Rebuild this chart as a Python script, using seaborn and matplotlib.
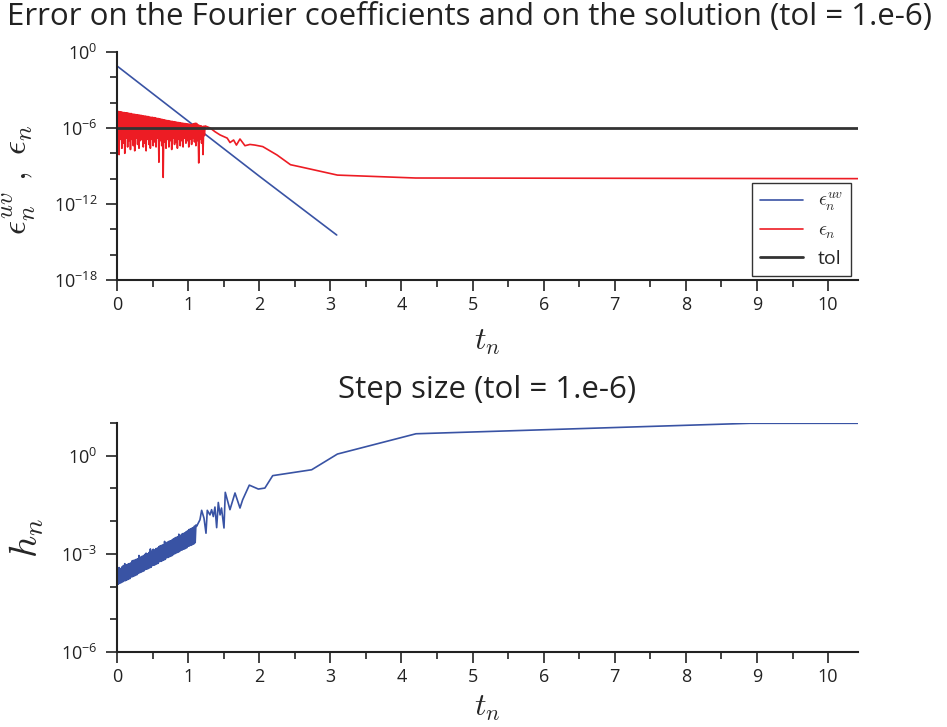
import numpy as np
import pandas as pd
import seaborn as sns
import matplotlib.pyplot as plt
from matplotlib.ticker import FixedLocator, NullFormatter, MultipleLocator, LogFormatterSciNotation

sns.set_style("ticks")
plt.rcParams["font.family"] = ["Open Sans", "DejaVu Sans"]
plt.rcParams["mathtext.fontset"] = "dejavusans"

# ---- data (y values given as log10) ----
tol = 1e-6

# error on the Fourier coefficients (straight line in log scale)
t_uv = [0.0, 1.0, 2.0, 3.09]
log_eps_uv = [-1.1, -5.45, -9.8, -14.45]

# error on the solution: noisy start, then smooth tail
t_eps = [0.00,
         0.00, 0.01, 0.02, 0.03, 0.04, 0.05, 0.06, 0.07, 0.08, 0.09,
         0.10, 0.11, 0.12, 0.13, 0.14, 0.15, 0.16, 0.17, 0.18, 0.19,
         0.20, 0.21, 0.22, 0.23, 0.24, 0.25, 0.26, 0.27, 0.28, 0.29,
         0.30, 0.31, 0.32, 0.33, 0.34, 0.35, 0.36, 0.37, 0.38, 0.39,
         0.40, 0.41, 0.42, 0.43, 0.44, 0.45, 0.46, 0.47, 0.48, 0.49,
         0.50, 0.51, 0.52, 0.53, 0.54, 0.55, 0.56, 0.57, 0.58, 0.59,
         0.60, 0.61, 0.62, 0.63, 0.64, 0.65, 0.66, 0.67, 0.68, 0.69,
         0.70, 0.71, 0.72, 0.73, 0.74, 0.75, 0.76, 0.77, 0.78, 0.79,
         0.80, 0.81, 0.82, 0.83, 0.84, 0.85, 0.86, 0.87, 0.88, 0.89,
         0.90, 0.91, 0.92, 0.93, 0.94, 0.95, 0.96, 0.97, 0.98, 0.99,
         1.00, 1.01, 1.02, 1.03, 1.04, 1.05, 1.06, 1.07, 1.08, 1.09,
         1.10, 1.11, 1.12, 1.13, 1.14, 1.15, 1.16, 1.17, 1.18, 1.19,
         1.20, 1.21, 1.22, 1.23, 1.24,
         1.31, 1.38, 1.45, 1.55, 1.59, 1.64, 1.68, 1.73, 1.80, 1.87, 1.94,
         2.05, 2.25, 2.44, 2.58, 3.10, 4.20, 10.42]
log_eps = [-12.7,
           -4.68, -7.4, -4.70, -8.1, -4.72, -6.9, -4.73, -7.6, -4.76, -7.2,
           -4.78, -8.0, -4.80, -6.8, -4.80, -7.5, -4.83, -7.0, -4.85, -7.7,
           -4.86, -6.9, -4.90, -7.4, -4.91, -7.8, -4.94, -6.8, -4.95, -7.3,
           -4.97, -7.6, -4.98, -7.0, -5.00, -6.9, -5.03, -7.5, -5.05, -7.2,
           -5.06, -7.8, -5.08, -6.9, -5.10, -7.3, -5.13, -7.6, -5.15, -6.9,
           -5.16, -7.4, -5.18, -7.1, -5.20, -7.5, -5.23, -6.8, -5.25, -8.7,
           -5.27, -7.0, -5.30, -7.4, -5.33, -9.9, -5.35, -7.1, -5.38, -7.6,
           -5.40, -6.9, -5.42, -7.5, -5.44, -7.0, -5.46, -7.7, -5.48, -6.8,
           -5.50, -7.3, -5.52, -7.1, -5.54, -7.6, -5.56, -6.9, -5.58, -7.4,
           -5.60, -7.0, -5.62, -7.5, -5.63, -6.8, -5.65, -7.2, -5.67, -7.0,
           -5.68, -7.5, -5.70, -6.9, -5.72, -7.3, -5.70, -6.8, -5.66, -7.1,
           -5.62, -7.4, -5.64, -7.0, -5.75, -8.76, -5.80, -6.9, -5.82, -7.2,
           -5.88, -8.1, -5.86, -6.6, -5.84,
           -6.0, -6.3, -6.55, -6.8, -7.15, -6.95, -7.35, -6.87, -7.4, -7.3, -7.35,
           -7.47, -8.13, -8.9, -9.07, -9.72, -9.95, -10.0]

# step size: noisy band, zigzag, then smooth growth
t_h = [0.00,
       0.00, 0.01, 0.02, 0.03, 0.04, 0.05, 0.06, 0.07, 0.08, 0.09,
       0.10, 0.11, 0.12, 0.13, 0.14, 0.15, 0.16, 0.17, 0.18, 0.19,
       0.20, 0.21, 0.22, 0.23, 0.24, 0.25, 0.26, 0.27, 0.28, 0.29,
       0.30, 0.31, 0.32, 0.33, 0.34, 0.35, 0.36, 0.37, 0.38, 0.39,
       0.40, 0.41, 0.42, 0.43, 0.44, 0.45, 0.46, 0.47, 0.48, 0.49,
       0.50, 0.51, 0.52, 0.53, 0.54, 0.55, 0.56, 0.57, 0.58, 0.59,
       0.60, 0.61, 0.62, 0.63, 0.64, 0.65, 0.66, 0.67, 0.68, 0.69,
       0.70, 0.71, 0.72, 0.73, 0.74, 0.75, 0.76, 0.77, 0.78, 0.79,
       0.80, 0.81, 0.82, 0.83, 0.84, 0.85, 0.86, 0.87, 0.88, 0.89,
       0.90, 0.91, 0.92, 0.93, 0.94, 0.95, 0.96, 0.97, 0.98, 0.99,
       1.00, 1.01, 1.02, 1.03, 1.04, 1.05, 1.06, 1.07, 1.08, 1.09,
       1.10, 1.11, 1.12,
       1.167, 1.191, 1.224, 1.252, 1.27, 1.308, 1.331, 1.355, 1.378, 1.402,
       1.425, 1.45, 1.47, 1.505, 1.523, 1.589, 1.66, 1.73, 1.767, 1.861,
       1.988, 2.08, 2.19, 2.738, 3.10, 4.205, 8.90, 10.42]
log_h = [-6.0,
         -3.95, -3.44, -3.93, -3.42, -3.90, -3.45, -3.88, -3.40, -3.86, -3.36,
         -3.83, -3.30, -3.82, -3.34, -3.80, -3.32, -3.78, -3.30, -3.76, -3.28,
         -3.71, -3.22, -3.70, -3.20, -3.68, -3.19, -3.66, -3.17, -3.64, -3.15,
         -3.60, -3.05, -3.58, -3.10, -3.56, -3.08, -3.54, -3.06, -3.52, -3.02,
         -3.48, -2.98, -3.47, -3.00, -3.45, -2.96, -3.43, -2.85, -3.41, -2.92,
         -3.36, -2.86, -3.35, -2.88, -3.33, -2.84, -3.31, -2.82, -3.29, -2.78,
         -3.24, -2.75, -3.23, -2.74, -3.21, -2.72, -3.19, -2.62, -3.17, -2.68,
         -3.12, -2.64, -3.11, -2.62, -3.09, -2.60, -3.07, -2.58, -3.05, -2.55,
         -3.01, -2.52, -2.99, -2.50, -2.97, -2.48, -2.95, -2.40, -2.93, -2.44,
         -2.89, -2.40, -2.88, -2.38, -2.86, -2.36, -2.84, -2.33, -2.82, -2.30,
         -2.77, -2.26, -2.76, -2.24, -2.74, -2.22, -2.72, -2.20, -2.70, -2.15,
         -2.66, -2.12, -2.16,
         -1.96, -1.67, -1.91, -2.37, -1.67, -1.81, -1.65, -1.86, -1.57, -2.20,
         -1.43, -1.81, -1.60, -2.21, -1.12, -1.65, -1.14, -1.60, -1.35, -0.90,
         -1.02, -0.99, -0.61, -0.43, 0.05, 0.67, 0.99, 0.99]

xticks = list(range(11))

uv_df = pd.DataFrame({"t": t_uv, "err": 10.0 ** np.array(log_eps_uv)})
eps_df = pd.DataFrame({"t": t_eps, "err": 10.0 ** np.array(log_eps)})
h_df = pd.DataFrame({"t": t_h, "h": 10.0 ** np.array(log_h)})

blue = "#3953a4"
red = "#ed1c24"
ink = "#222222"

fig = plt.figure(figsize=(9.47, 7.27), dpi=100)
ax1 = fig.add_axes([0.1235, 0.6149, 0.7825, 0.3136])
ax2 = fig.add_axes([0.1235, 0.1032, 0.7825, 0.3150])

# top panel
ax1.set_yscale("log")
sns.lineplot(data=uv_df, x="t", y="err", ax=ax1, color=blue, lw=1.2,
             estimator=None, sort=False, label=r"$\epsilon_n^{uv}$")
sns.lineplot(data=eps_df, x="t", y="err", ax=ax1, color=red, lw=1.2,
             estimator=None, sort=False, label=r"$\epsilon_n$")
ax1.axhline(tol, color="#333333", lw=2, label="tol")
ax1.set_ylim(1e-18, 1e0)
ax1.yaxis.set_major_locator(FixedLocator([1e-18, 1e-12, 1e-6, 1e0]))
ax1.yaxis.set_minor_locator(FixedLocator([1e-16, 1e-14, 1e-10, 1e-8, 1e-4, 1e-2]))

# bottom panel
ax2.set_yscale("log")
sns.lineplot(data=h_df, x="t", y="h", ax=ax2, color=blue, lw=1.2,
             estimator=None, sort=False)
ax2.set_ylim(1e-6, 1e1)
ax2.yaxis.set_major_locator(FixedLocator([1e-6, 1e-3, 1e0]))
ax2.yaxis.set_minor_locator(FixedLocator([1e-5, 1e-4, 1e-2, 1e-1, 1e1]))

for ax in (ax1, ax2):
    ax.set_xlim(0, 10.42)
    ax.set_xticks(xticks)
    ax.xaxis.set_minor_locator(MultipleLocator(0.5))
    ax.yaxis.set_major_formatter(LogFormatterSciNotation())
    ax.yaxis.set_minor_formatter(NullFormatter())
    ax.tick_params(which="major", direction="out", length=8, width=1.2,
                   color=ink, labelsize=13, labelcolor=ink)
    ax.tick_params(axis="y", which="major", pad=6)
    ax.tick_params(which="minor", direction="out", length=5, width=1.2, color=ink)
    for s in ("left", "bottom"):
        ax.spines[s].set_linewidth(1.5)
        ax.spines[s].set_color(ink)
    sns.despine(ax=ax)

ax1.set_xlabel(r"$t_n$", fontsize=23, math_fontfamily="cm", labelpad=8)
ax2.set_xlabel(r"$t_n$", fontsize=23, math_fontfamily="cm", labelpad=3)

ax1.set_ylabel(r"$\epsilon_n^{uv}\ ,\ \epsilon_n$", fontsize=25,
               math_fontfamily="cm")
ax1.yaxis.set_label_coords(-0.107, 0.44)
ax2.set_ylabel(r"$h_n$", fontsize=28, math_fontfamily="cm")
ax2.yaxis.set_label_coords(-0.095, 0.5)

leg = ax1.legend(loc="lower right", bbox_to_anchor=(0.991, 0.018),
                 borderaxespad=0, fancybox=False, frameon=True,
                 edgecolor="black", fontsize=14, handlelength=2.2,
                 labelspacing=0.45)
leg.get_frame().set_linewidth(1.0)
for txt in leg.get_texts():
    txt.set_math_fontfamily("cm")

fig.text(0.496, 0.977, "Error on the Fourier coefficients and on the solution (tol = 1.e-6)",
         ha="center", va="center", fontsize=22.5, color=ink)
fig.text(0.5148, 0.464, "Step size (tol = 1.e-6)",
         ha="center", va="center", fontsize=22.5, color=ink)

fig.savefig("out.png", dpi=100)
